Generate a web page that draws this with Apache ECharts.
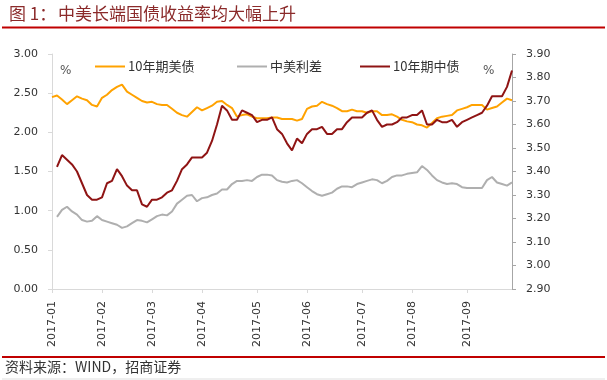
<!DOCTYPE html>
<html>
<head>
<meta charset="utf-8">
<script src="https://cdn.jsdelivr.net/npm/echarts@6/dist/echarts.min.js"></script>
<style>
html,body{margin:0;padding:0;background:#fff;}
#c{width:607px;height:380px;}
</style>
</head>
<body>
<div id="c"></div>
<script>
const titlePrefix = '图 1：';
const titleText = '中美长端国债收益率均大幅上升';
const sourceText = '资料来源：WIND，招商证券';
const seriesNames = ['10年期美债', '中美利差', '10年期中债'];

const categories = [
  '2017-01-03','2017-01-06','2017-01-09','2017-01-12','2017-01-15','2017-01-18','2017-01-21','2017-01-24','2017-01-27','2017-01-30',
  '2017-02-01','2017-02-04','2017-02-07','2017-02-10','2017-02-13','2017-02-16','2017-02-19','2017-02-22','2017-02-25','2017-02-27',
  '2017-03-01','2017-03-04','2017-03-07','2017-03-10','2017-03-13','2017-03-16','2017-03-19','2017-03-22','2017-03-25','2017-03-28',
  '2017-04-01','2017-04-04','2017-04-07','2017-04-09','2017-04-12','2017-04-15','2017-04-18','2017-04-20','2017-04-23','2017-04-26','2017-04-28',
  '2017-05-02','2017-05-05','2017-05-08','2017-05-11','2017-05-14','2017-05-17','2017-05-20','2017-05-23','2017-05-26','2017-05-29',
  '2017-06-01','2017-06-04','2017-06-06','2017-06-09','2017-06-12','2017-06-14','2017-06-17','2017-06-20','2017-06-23','2017-06-26','2017-06-28',
  '2017-07-03','2017-07-06','2017-07-09','2017-07-12','2017-07-15','2017-07-18','2017-07-21','2017-07-24','2017-07-27','2017-07-30',
  '2017-08-01','2017-08-04','2017-08-07','2017-08-10','2017-08-13','2017-08-16','2017-08-19','2017-08-22','2017-08-25','2017-08-28','2017-08-30',
  '2017-09-02','2017-09-05','2017-09-08','2017-09-11','2017-09-14','2017-09-17','2017-09-20','2017-09-23','2017-09-26','2017-09-29'
];

// 10年期美债 (left axis, %)
const usYield = [
  2.45,2.47,2.42,2.36,2.41,2.46,2.43,2.41,2.35,2.33,
  2.44,2.48,2.54,2.58,2.61,2.52,2.48,2.44,2.40,2.38,
  2.39,2.36,2.35,2.35,2.30,2.25,2.22,2.20,2.26,2.32,
  2.28,2.31,2.34,2.39,2.40,2.35,2.31,2.20,2.22,2.23,2.20,
  2.18,2.18,2.18,2.19,2.19,2.17,2.17,2.17,2.15,
  2.17,2.30,2.33,2.34,2.39,2.36,2.34,2.31,2.27,2.27,2.29,
  2.27,2.27,2.25,2.27,2.27,2.22,2.22,2.23,2.20,2.16,
  2.14,2.13,2.10,2.09,2.06,2.12,2.18,2.20,2.21,2.22,2.28,
  2.30,2.32,2.35,2.35,2.35,2.29,2.31,2.33,2.38,2.43,2.41
];

// 中美利差 (left axis, %)
const spread = [
  null,0.92,1.01,1.05,0.99,0.95,0.88,0.86,0.87,0.93,
  0.88,0.86,0.84,0.82,0.78,0.80,0.84,0.88,0.87,0.85,
  0.89,0.93,0.95,0.94,0.99,1.09,1.14,1.19,1.20,1.12,
  1.16,1.17,1.20,1.22,1.27,1.27,1.34,1.38,1.38,1.39,1.38,
  1.43,1.46,1.46,1.45,1.39,1.37,1.36,1.38,1.39,
  1.35,1.30,1.25,1.21,1.19,1.21,1.23,1.28,1.31,1.31,1.30,
  1.34,1.36,1.38,1.40,1.39,1.35,1.38,1.43,1.45,1.45,
  1.47,1.48,1.49,1.57,1.52,1.45,1.39,1.36,1.34,1.35,1.34,
  1.30,1.29,1.29,1.29,1.29,1.39,1.43,1.36,1.34,1.32,1.36
];

// 10年期中债 (right axis, %)
const cnYield = [
  null,3.42,3.47,3.45,3.43,3.40,3.35,3.30,3.28,3.28,
  3.29,3.35,3.36,3.41,3.38,3.34,3.32,3.32,3.26,3.25,
  3.28,3.28,3.29,3.31,3.32,3.36,3.41,3.43,3.46,3.46,
  3.46,3.48,3.53,3.60,3.68,3.66,3.62,3.62,3.66,3.65,3.64,
  3.61,3.62,3.62,3.63,3.58,3.56,3.52,3.49,3.54,
  3.52,3.56,3.58,3.58,3.59,3.56,3.56,3.58,3.58,3.61,3.63,
  3.63,3.63,3.65,3.66,3.62,3.59,3.60,3.60,3.61,3.63,
  3.63,3.64,3.64,3.66,3.60,3.60,3.62,3.61,3.61,3.62,3.59,
  3.61,3.62,3.63,3.64,3.65,3.68,3.72,3.72,3.72,3.76,3.83
];

const leftAxis = {min: 0, max: 3, interval: 0.5};
const rightAxis = {min: 2.9, max: 3.9, interval: 0.1};

function isMonthStart(idx) {
  if (idx === 0) return true;
  return categories[idx].slice(0, 7) !== categories[idx - 1].slice(0, 7);
}

const chart = echarts.init(document.getElementById('c'), null, {renderer: 'canvas'});
const axisFont = 'DejaVu Sans';
const cjkFont = '"Noto Sans CJK SC", sans-serif';

const legendBase = {
  top: 55, icon: 'rect', itemWidth: 30, itemHeight: 2,
  textStyle: {fontFamily: cjkFont, fontSize: 13, color: '#333', padding: [0, 0, 0, -2]}
};
const legendLefts = [90, 232, 355];

chart.setOption({
  animation: false,
  backgroundColor: '#ffffff',
  grid: {left: 52, right: 95, top: 54, bottom: 91},
  legend: seriesNames.map((n, k) => Object.assign({}, legendBase, {data: [n], left: legendLefts[k]})),
  graphic: [
    {type: 'text', left: 9, top: 5, style: {text: titlePrefix, font: '17px ' + cjkFont, fill: '#8b2a2a'}},
    {type: 'text', left: 58, top: 5, style: {text: titleText, font: '17px ' + cjkFont, fill: '#8b2a2a'}},
    {type: 'rect', shape: {x: 2, y: 26.5, width: 603, height: 2}, style: {fill: '#c00000'}},
    {type: 'rect', shape: {x: 2, y: 356, width: 603, height: 2}, style: {fill: '#c00000'}},
    {type: 'rect', shape: {x: 2, y: 378.5, width: 603, height: 1}, style: {fill: '#e0e0e0'}},
    {type: 'text', left: 5, top: 360, style: {text: sourceText, font: '14px ' + cjkFont, fill: '#333'}},
    {type: 'text', left: 60, top: 65, style: {text: '%', font: '12px ' + axisFont, fill: '#555'}},
    {type: 'text', left: 483, top: 65, style: {text: '%', font: '12px ' + axisFont, fill: '#555'}}
  ],
  xAxis: {
    type: 'category',
    data: categories,
    boundaryGap: false,
    axisLine: {lineStyle: {color: '#d9d9d9', width: 1}},
    axisTick: {show: true, length: 4, interval: (i) => isMonthStart(i), lineStyle: {color: '#d9d9d9'}},
    axisLabel: {
      interval: (i) => isMonthStart(i),
      formatter: (v) => v.slice(0, 7),
      rotate: 90, margin: 12,
      fontFamily: axisFont, fontSize: 11, color: '#333'
    },
    splitLine: {show: false}
  },
  yAxis: [
    {
      type: 'value', min: leftAxis.min, max: leftAxis.max, interval: leftAxis.interval,
      axisLine: {show: true, lineStyle: {color: '#d9d9d9'}},
      axisTick: {show: true, length: 4, lineStyle: {color: '#d9d9d9'}},
      axisLabel: {formatter: (v) => v.toFixed(2), margin: 14, fontFamily: axisFont, fontSize: 11, color: '#333'},
      splitLine: {show: false}
    },
    {
      type: 'value', min: rightAxis.min, max: rightAxis.max, interval: rightAxis.interval,
      position: 'right',
      axisLine: {show: true, lineStyle: {color: '#a6a6a6'}},
      axisTick: {show: true, length: 4, lineStyle: {color: '#a6a6a6'}},
      axisLabel: {formatter: (v) => v.toFixed(2), margin: 14, fontFamily: axisFont, fontSize: 11, color: '#333'},
      splitLine: {show: false}
    }
  ],
  series: [
    {name: seriesNames[0], type: 'line', data: usYield, yAxisIndex: 0, showSymbol: false, symbol: 'none',
     lineStyle: {color: '#ffa200', width: 2}, itemStyle: {color: '#ffa200'}},
    {name: seriesNames[1], type: 'line', data: spread, yAxisIndex: 0, showSymbol: false, symbol: 'none',
     lineStyle: {color: '#afafaf', width: 2}, itemStyle: {color: '#afafaf'}},
    {name: seriesNames[2], type: 'line', data: cnYield, yAxisIndex: 1, showSymbol: false, symbol: 'none',
     lineStyle: {color: '#8f1414', width: 2}, itemStyle: {color: '#8f1414'}}
  ]
});
</script>
</body>
</html>
